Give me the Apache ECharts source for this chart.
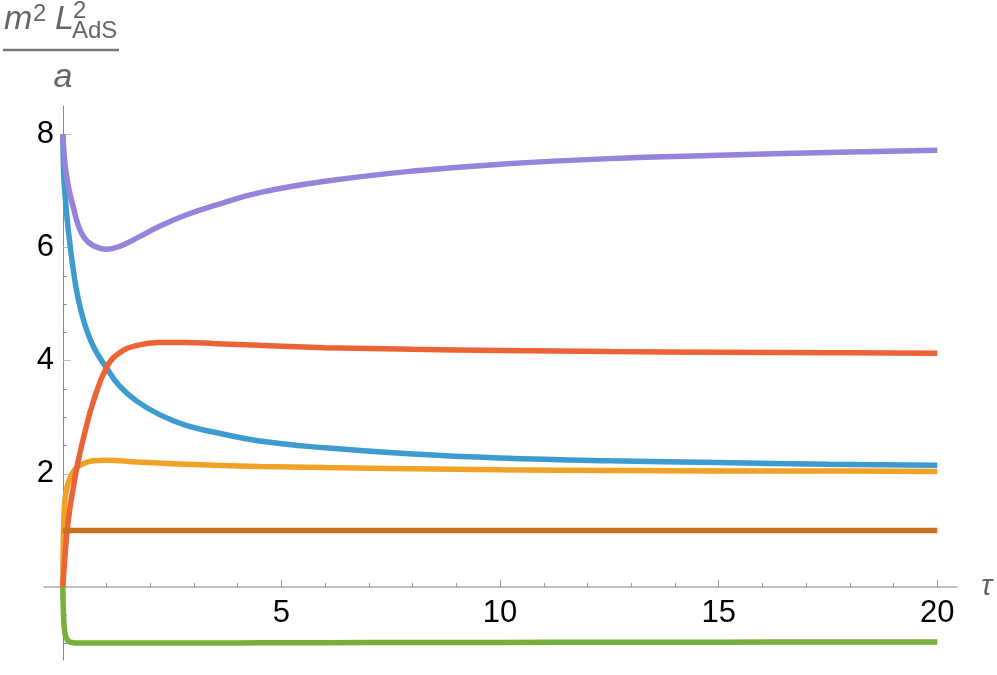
<!DOCTYPE html>
<html>
<head>
<meta charset="utf-8">
<script src="https://cdn.jsdelivr.net/npm/echarts@6/dist/echarts.min.js"></script>
<style>
  html, body { margin: 0; padding: 0; background: #fff; }
  #main { width: 997px; height: 675px; }
</style>
</head>
<body>
<div id="main"></div>
<script>
// sample points along tau (denser near 0 where curves are steep)
var tau = [0, 0.02, 0.05, 0.1, 0.16, 0.25, 0.35, 0.5, 0.7, 1, 1.3, 1.7, 2.2, 2.8, 3.5, 4.5, 6, 8, 10, 12.5, 15, 17.5, 20];

var blueVals   = [8.0, 7.3, 6.95, 6.5, 6.08, 5.55, 5.1, 4.65, 4.25, 3.87, 3.55, 3.28, 3.05, 2.86, 2.73, 2.58, 2.46, 2.35, 2.28, 2.23, 2.2, 2.17, 2.15];
var orangeVals = [0, 1.1, 1.55, 1.78, 1.92, 2.05, 2.13, 2.19, 2.23, 2.24, 2.23, 2.21, 2.19, 2.17, 2.15, 2.13, 2.11, 2.09, 2.07, 2.06, 2.05, 2.05, 2.04];
var greenVals  = [0, -0.55, -0.82, -0.93, -0.97, -0.985, -0.99, -0.99, -0.99, -0.99, -0.99, -0.99, -0.99, -0.99, -0.99, -0.985, -0.985, -0.98, -0.98, -0.975, -0.975, -0.97, -0.97];
var redVals    = [0, 0.22, 0.55, 1.0, 1.38, 1.8, 2.22, 2.72, 3.28, 3.88, 4.14, 4.27, 4.32, 4.32, 4.3, 4.27, 4.23, 4.2, 4.18, 4.16, 4.15, 4.14, 4.13];
var purpleVals = [8.0, 7.75, 7.48, 7.2, 6.96, 6.68, 6.4, 6.16, 6.03, 5.97, 6.02, 6.17, 6.37, 6.57, 6.75, 6.97, 7.17, 7.35, 7.47, 7.57, 7.63, 7.68, 7.72];
var brownVals  = [1.0, 1.0, 1.0, 1.0, 1.0, 1.0, 1.0, 1.0, 1.0, 1.0, 1.0, 1.0, 1.0, 1.0, 1.0, 1.0, 1.0, 1.0, 1.0, 1.0, 1.0, 1.0, 1.0];

var xMajor = [5, 10, 15, 20];
var xMinor = [1, 2, 3, 4, 6, 7, 8, 9, 11, 12, 13, 14, 16, 17, 18, 19];
var yMajor = [2, 4, 6, 8];
var yMinor = [-1, -0.5, 0.5, 1, 1.5, 2.5, 3, 3.5, 4.5, 5, 5.5, 6.5, 7, 7.5];

function pairs(vals) {
  return tau.map(function (t, i) { return [t, vals[i]]; });
}

var chart = echarts.init(document.getElementById('main'));
var font = "'Liberation Sans', Arial, sans-serif";
var X_MIN = -0.43, X_MAX = 20.45, Y_MIN = -1.29, Y_MAX = 8.5;

function curve(name, vals, color) {
  return {
    name: name,
    type: 'line',
    data: pairs(vals),
    showSymbol: false,
    smooth: 0.45,
    lineStyle: { color: color, width: 5.5 },
    xAxisIndex: 0,
    yAxisIndex: 0
  };
}

var option = {
  animation: false,
  backgroundColor: '#fff',
  grid: { left: 44, right: 40, top: 106, bottom: 15, outerBoundsMode: 'none', containLabel: false },
  xAxis: [{
    // axis line + major ticks, crossing at y = 0
    type: 'value', min: X_MIN, max: X_MAX,
    name: 'τ',
    nameLocation: 'end',
    nameGap: 24,
    nameTextStyle: { fontFamily: font, fontSize: 30, fontStyle: 'italic', color: '#666', verticalAlign: 'middle' },
    axisLine: { onZero: true, lineStyle: { color: '#aaa', width: 1.5 } },
    axisTick: { show: true, inside: true, length: 7, customValues: xMajor, lineStyle: { color: '#999' } },
    axisLabel: { show: false },
    splitLine: { show: false }
  }, {
    // minor ticks
    type: 'value', min: X_MIN, max: X_MAX,
    position: 'bottom',
    axisLine: { show: false, onZero: true, onZeroAxisIndex: 0 },
    axisTick: { show: true, inside: true, length: 4, customValues: xMinor, lineStyle: { color: '#999' } },
    axisLabel: { show: false },
    splitLine: { show: false }
  }, {
    // tick labels only
    type: 'value', min: X_MIN, max: X_MAX,
    position: 'bottom',
    axisLine: { show: false, onZero: false },
    axisTick: { show: false },
    axisLabel: { customValues: xMajor, fontFamily: font, fontSize: 31, color: '#000', margin: -62 },
    splitLine: { show: false }
  }],
  yAxis: [{
    type: 'value', min: Y_MIN, max: Y_MAX,
    axisLine: { show: true, onZero: true, lineStyle: { color: '#888', width: 1 } },
    axisTick: { show: true, inside: true, length: 8, customValues: yMajor, lineStyle: { color: '#bbb' } },
    axisLabel: { show: false },
    splitLine: { show: false }
  }, {
    type: 'value', min: Y_MIN, max: Y_MAX,
    position: 'left',
    axisLine: { show: false, onZero: true, onZeroAxisIndex: 0 },
    axisTick: { show: true, inside: true, length: 4, customValues: yMinor, lineStyle: { color: '#888' } },
    axisLabel: { show: false },
    splitLine: { show: false }
  }, {
    type: 'value', min: Y_MIN, max: Y_MAX,
    position: 'left',
    axisLine: { show: false, onZero: false },
    axisTick: { show: false },
    axisLabel: { customValues: yMajor, fontFamily: font, fontSize: 31, color: '#000', margin: -10 },
    splitLine: { show: false }
  }],
  graphic: [
    { type: 'text', x: 4, y: 20, style: { text: 'm', font: 'italic 34px ' + font, fill: '#666', verticalAlign: 'middle' } },
    { type: 'text', x: 33, y: 14, style: { text: '2', font: '24px ' + font, fill: '#666', verticalAlign: 'middle' } },
    { type: 'text', x: 55, y: 20, style: { text: 'L', font: 'italic 34px ' + font, fill: '#666', verticalAlign: 'middle' } },
    { type: 'text', x: 73, y: 11, style: { text: '2', font: '24px ' + font, fill: '#666', verticalAlign: 'middle' } },
    { type: 'text', x: 72, y: 31, style: { text: 'AdS', font: '24px ' + font, fill: '#666', verticalAlign: 'middle' } },
    { type: 'line', shape: { x1: 3, y1: 50, x2: 119, y2: 50 }, style: { stroke: '#777', lineWidth: 2.5 } },
    { type: 'text', x: 63, y: 78, style: { text: 'a', font: 'italic 34px ' + font, fill: '#666', align: 'center', verticalAlign: 'middle' } }
  ],
  series: [
    curve('blue', blueVals, '#3D9BD0'),
    curve('orange', orangeVals, '#F2A127'),
    curve('green', greenVals, '#76B03A'),
    curve('red', redVals, '#EC6436'),
    curve('purple', purpleVals, '#9683DA'),
    curve('brown', brownVals, '#C8701F')
  ]
};

chart.setOption(option);
</script>
</body>
</html>
